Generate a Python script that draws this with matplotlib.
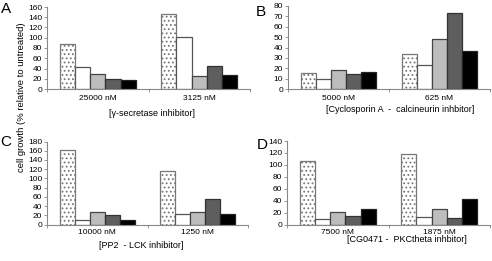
import matplotlib
matplotlib.use("Agg")
import matplotlib.pyplot as plt
import numpy as np

plt.rcParams['font.family'] = ['Liberation Sans', 'DejaVu Sans']
plt.rcParams['hatch.linewidth'] = 0.8

panels = ["A", "B", "C", "D"]
concentrations = {
    "A": ["25000 nM", "3125 nM"],
    "B": ["5000 nM", "625 nM"],
    "C": ["10000 nM", "1250 nM"],
    "D": ["7500 nM", "1875 nM"],
}
inhibitors = {
    "A": "[\u03b3-secretase inhibitor]",
    "B": "[Cyclosporin A  -  calcineurin inhbitor]",
    "C": "[PP2  - LCK inhibitor]",
    "D": "[CG0471 -  PKCtheta inhbitor]",
}
# five series per group: dotted, white, light gray, dark gray, black
values_A = [[88, 42, 29, 20, 17], [147, 102, 25, 45, 27]]
values_B = [[15, 10, 18, 14.5, 16.5], [34, 23.5, 48, 73, 37]]
values_C = [[162, 10, 28, 22, 10], [116, 23, 28, 56, 24]]
values_D = [[107, 10, 21, 15, 27], [119, 13, 26, 11, 43]]
values = {"A": values_A, "B": values_B, "C": values_C, "D": values_D}
ymax = {"A": 160, "B": 80, "C": 180, "D": 140}
ystep = {"A": 20, "B": 10, "C": 20, "D": 20}

fig = plt.figure(figsize=(4.92, 2.61), dpi=100)
W, H = 492, 261

boxes = {
    "A": (47, 250, 7, 89),
    "B": (288, 490, 6, 89),
    "C": (47, 248, 141.5, 224.7),
    "D": (287, 490, 141, 224.7),
}
letter_pos = {"A": (1, 13), "B": (256, 16), "C": (0, 146), "D": (257, 149)}
label_pos = {"A": (152, 113), "B": (400, 110), "C": (141, 246), "D": (407, 240)}
cat_pad = {"A": 4, "B": 4, "C": 3, "D": 3}

fills = ['white', 'white', '#bdbdbd', '#5e5e5e', '#000000']
edges = ['#777777', '#555555', '#444444', '#333333', '#222222']
hatches = ['....', None, None, None, None]
bw = 0.15
spine_col = '#888888'

for p in panels:
    l, r, t, b = boxes[p]
    ax = fig.add_axes([l / W, 1 - b / H, (r - l) / W, (b - t) / H])
    vals = np.array(values[p])
    x = np.arange(len(concentrations[p]))
    for i in range(5):
        ax.bar(x + (i - 2) * bw, vals[:, i], width=bw, color=fills[i],
               edgecolor=edges[i], linewidth=0.9, hatch=hatches[i], zorder=2)
    ax.set_xlim(-0.5, 1.5)
    ax.set_ylim(0, ymax[p])
    ax.set_yticks(np.arange(0, ymax[p] + 1, ystep[p]))
    ax.set_xticks([-0.5, 0.5, 1.5])
    ax.set_xticklabels([])
    ax.set_xticks(x, minor=True)
    ax.set_xticklabels(concentrations[p], minor=True, fontsize=6)
    ax.tick_params(axis='x', which='minor', length=0, pad=cat_pad[p])
    ax.tick_params(axis='x', which='major', length=2, width=0.6, color=spine_col)
    ax.tick_params(axis='y', length=2, width=0.6, color=spine_col, labelsize=6, pad=1.5)
    for s in ['top', 'right']:
        ax.spines[s].set_visible(False)
    for s in ['left', 'bottom']:
        ax.spines[s].set_color(spine_col)
        ax.spines[s].set_linewidth(0.8)
    lx, ly = letter_pos[p]
    fig.text(lx / W, 1 - ly / H, p, fontsize=11, ha='left', va='baseline')
    tx, ty = label_pos[p]
    fig.text(tx / W, 1 - ty / H, inhibitors[p], fontsize=6.5, ha='center', va='center')

fig.text(22 / W, 1 - 97.5 / H, "cell growth (% relative to untreated)", fontsize=6.8,
         rotation=90, ha='center', va='center')

fig.savefig("out.png", dpi=100)
